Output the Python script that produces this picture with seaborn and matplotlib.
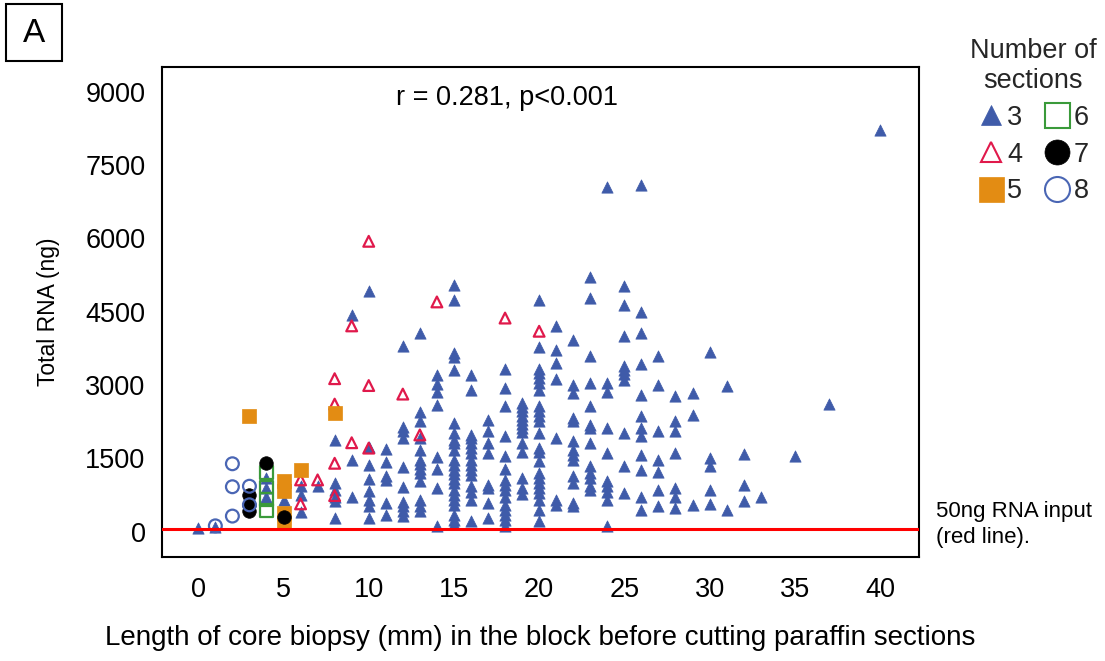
import matplotlib
matplotlib.use("Agg")
import matplotlib.pyplot as plt
import seaborn as sns
import pandas as pd
from matplotlib.lines import Line2D
from matplotlib.patches import Rectangle

# ---- data: core length (mm) -> total RNA (ng), per number of sections ----
sec3 = {
    0: [70], 1: [100], 4: [1100, 900, 720], 5: [650], 6: [930, 760, 400], 7: [940],
    8: [1880, 1000, 860, 700, 620, 280],
    9: [4440, 1460, 700],
    10: [4920, 1740, 1370, 1080, 840, 650, 520, 280],
    11: [1700, 1420, 1130, 1050, 590, 350],
    12: [3800, 2150, 2050, 1910, 1320, 910, 610, 520, 420, 320],
    13: [4060, 2440, 2260, 1920, 1680, 1470, 1380, 1290, 1200, 1030, 650, 520, 420],
    14: [3210, 3030, 2850, 2600, 1520, 1280, 890, 110],
    15: [5050, 4740, 3650, 3570, 3300, 2220, 2020, 1880, 1810, 1680, 1470, 1370, 1270,
         1190, 1080, 990, 860, 760, 650, 550, 350, 240, 160],
    16: [3210, 2900, 1980, 1910, 1810, 1710, 1610, 1470, 1370, 1270, 1160, 930, 820, 650, 210],
    17: [2290, 2050, 1810, 1620, 960, 890, 590, 280],
    18: [3330, 2940, 2580, 1950, 1540, 1280, 1060, 960, 860, 720, 550, 450, 350, 240, 110],
    19: [2630, 2550, 2460, 2370, 2290, 2210, 2120, 2030, 1810, 1640, 1100, 890, 780],
    20: [4730, 3780, 3330, 3250, 3140, 3040, 2890, 2580, 2460, 2360, 2260, 2020, 1710,
         1640, 1440, 1200, 1100, 990, 890, 800, 650, 450, 210],
    21: [4200, 3720, 3460, 3120, 1920, 650, 550],
    22: [3930, 3010, 2840, 2320, 2260, 1850, 1680, 1570, 1470, 1130, 990, 590, 520],
    23: [5220, 4780, 3590, 3040, 2580, 2190, 2120, 1810, 1340, 1200, 1100, 930, 860],
    24: [7050, 3040, 2850, 2120, 1610, 1030, 930, 820, 650, 110],
    25: [5030, 4640, 4000, 3380, 3310, 3230, 3110, 2020, 1340, 790],
    26: [7100, 4490, 4060, 3440, 2800, 2360, 2120, 1950, 1570, 1270, 700, 450],
    27: [3590, 3010, 2050, 1470, 1230, 860, 520],
    28: [2770, 2260, 2050, 1610, 890, 720, 480],
    29: [2840, 2390, 550],
    30: [3670, 1510, 1340, 860, 570],
    31: [2990, 440],
    32: [1590, 960, 620],
    33: [720],
    35: [1540],
    37: [2620],
    40: [8220],
}
sec4 = {6: [1060, 570], 7: [1060], 8: [3130, 2610, 1400, 740], 9: [4210, 1820],
        10: [5940, 2990, 1710], 12: [2815], 13: [1980], 14: [4700], 18: [4370], 20: [4100]}
sec5 = {3: [2370], 5: [1040, 830, 390, 190], 6: [1270], 8: [2420]}
sec6 = {4: [1210, 910, 660, 430]}
sec7 = {3: [750, 550, 430], 4: [1400], 5: [300]}
sec8 = {1: [120], 2: [1390, 920, 320], 3: [930, 550]}

section_labels = ["3", "4", "5", "6", "7", "8"]
x_ticks = [0, 5, 10, 15, 20, 25, 30, 35, 40]
y_ticks = [0, 1500, 3000, 4500, 6000, 7500, 9000]
threshold = 50

rows = []
for lab, d in zip(section_labels, [sec3, sec4, sec5, sec6, sec7, sec8]):
    for mm, vals in d.items():
        for v in vals:
            rows.append({"length": mm, "rna": v, "sections": lab})
df = pd.DataFrame(rows)

# ---- styling ----
sns.set_theme(style="white")
plt.rcParams["font.family"] = ["Liberation Sans", "DejaVu Sans"]

styles = {
    "3": dict(marker="^", s=66, color="#3F5BA9", filled=True),
    "4": dict(marker="^", s=60, color="#E0194B", filled=False),
    "5": dict(marker="s", s=95, color="#E38C13", filled=True),
    "6": dict(marker="s", s=80, color="#3A9A3A", filled=False),
    "7": dict(marker="o", s=95, color="#000000", filled=True),
    "8": dict(marker="o", s=85, color="#4A66B4", filled=False),
}

fig = plt.figure(figsize=(11.05, 6.61), dpi=100)
W, H = 1105, 661
ax = fig.add_axes([161.5 / W, 1 - 557 / H, (919 - 161.5) / W, (557 - 67) / H])

for lab in section_labels:
    st = styles[lab]
    sub = df[df["sections"] == lab]
    if st["filled"]:
        sns.scatterplot(data=sub, x="length", y="rna", ax=ax, marker=st["marker"],
                        s=st["s"], color=st["color"], edgecolor=st["color"],
                        linewidth=0.5, zorder=2, legend=False)
    else:
        sns.scatterplot(data=sub, x="length", y="rna", ax=ax, marker=st["marker"],
                        s=st["s"], color=st["color"], facecolor="none",
                        edgecolor=st["color"], linewidth=1.6, zorder=2, legend=False)

ax.axhline(threshold, color="#FF0000", lw=2.2, zorder=3)

ax.set_xlim(-2.16, 42.29)
ax.set_ylim(-517, 9505)
ax.set_xticks(x_ticks)
ax.set_yticks(y_ticks)
ax.set_xticklabels([str(t) for t in x_ticks])
ax.set_yticklabels([str(t) for t in y_ticks])
ax.tick_params(axis="both", direction="inout", length=13, width=1.5, color="black",
               labelsize=19.5, labelcolor="black")
ax.tick_params(axis="x", pad=8)
ax.tick_params(axis="y", pad=5)
for sp in ax.spines.values():
    sp.set_color("black")
    sp.set_linewidth(1.5)

ax.set_xlabel("Length of core biopsy (mm) in the block before cutting paraffin sections",
              fontsize=20, color="black", labelpad=16)
ax.set_ylabel("Total RNA (ng)", fontsize=16.5, color="black", labelpad=18)

ax.text(0.4557, 0.9367, "r = 0.281, p<0.001", transform=ax.transAxes, ha="center",
        va="center", fontsize=19.5, color="black")

# panel letter
fig.add_artist(Rectangle((6 / W, 1 - 61 / H), 56 / W, 57 / H, transform=fig.transFigure,
                         fill=False, lw=1.5, ec="black"))
fig.text(34 / W, 1 - 33 / H, "A", ha="center", va="center", fontsize=24, color="black")

# red line note
fig.text(936 / W, 1 - 501 / H, "50ng RNA input\n(red line).", ha="left", va="top",
         fontsize=16, color="black", linespacing=1.3)

# legend
handles = []
for lab in section_labels:
    st = styles[lab]
    ms = 15 if st["marker"] == "^" else 18
    handles.append(Line2D([], [], linestyle="none", marker=st["marker"], markersize=ms,
                          markerfacecolor=st["color"] if st["filled"] else "none",
                          markeredgecolor=st["color"], markeredgewidth=1.5 if not st["filled"] else 0.5))
leg = fig.legend(handles, section_labels, ncol=2, loc="upper center",
                 bbox_to_anchor=(1033 / W, 1 - 27 / H), frameon=False,
                 title="Number of\nsections", title_fontsize=19.5, fontsize=19.5,
                 handlelength=1.0, handletextpad=0.1, columnspacing=0.8,
                 labelspacing=0.4, borderaxespad=0)
leg.get_title().set_multialignment("center")

fig.savefig("out.png", dpi=100, facecolor="white")
